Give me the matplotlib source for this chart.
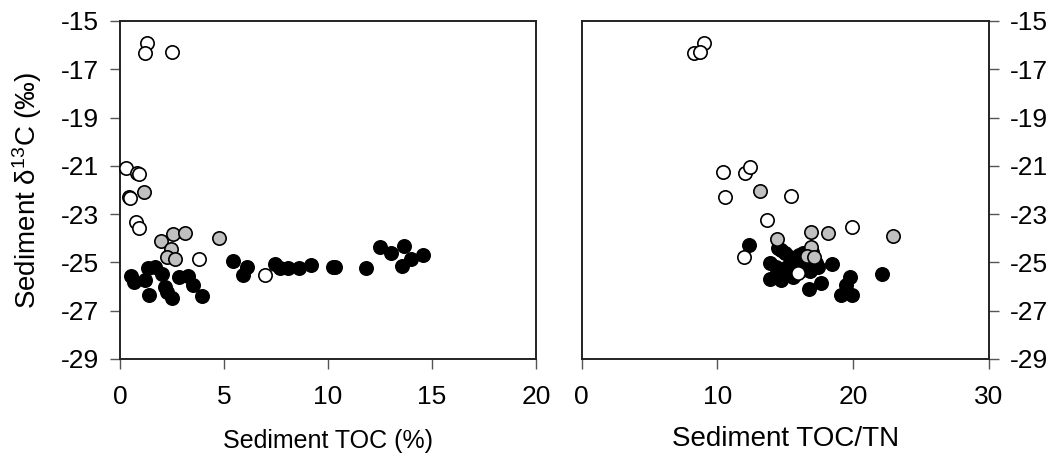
import matplotlib
matplotlib.use("Agg")
import matplotlib.pyplot as plt

plt.rcParams['font.family'] = ['Liberation Sans', 'DejaVu Sans']
plt.rcParams['mathtext.fontset'] = 'custom'
plt.rcParams['mathtext.rm'] = 'Liberation Sans'
plt.rcParams['mathtext.it'] = 'Liberation Sans:italic'
plt.rcParams['axes.unicode_minus'] = False

# ===============================
# Data
# ===============================
# open circles
toc_white = [1.31, 1.20, 2.52, 0.29, 0.80, 0.93, 0.45, 0.50, 0.77, 0.91, 3.80, 6.97]
d13c_white = [-15.92, -16.31, -16.27, -21.10, -21.28, -21.33, -22.30, -22.35, -23.31, -23.59, -24.84, -25.52]
cn_white = [8.99, 8.26, 8.75, 10.42, 12.06, 12.43, 10.54, 15.44, 13.65, 19.90, 11.93, 15.94]
d13c_white_r = [-15.92, -16.31, -16.27, -21.24, -21.31, -21.06, -22.27, -22.23, -23.24, -23.54, -24.76, -25.45]

# grey circles
toc_grey = [1.14, 1.96, 2.53, 3.11, 2.44, 2.28, 2.66, 4.74]
d13c_grey = [-22.10, -24.11, -23.83, -23.77, -24.44, -24.79, -24.87, -23.97]
cn_grey = [13.16, 14.39, 16.89, 18.14, 16.91, 16.59, 17.08, 22.90]
d13c_grey_r = [-22.04, -24.03, -23.72, -23.79, -24.37, -24.73, -24.79, -23.90]

# black circles
toc_black = [0.51, 0.67, 1.20, 1.39, 1.36, 1.68, 2.03, 2.16, 2.24, 2.52, 2.84,
             3.25, 3.49, 3.93, 5.45, 6.12, 5.93, 7.45, 7.69, 8.09, 8.62, 9.18,
             10.22, 10.36, 11.83, 12.50, 13.01, 13.65, 13.54, 13.97, 14.58]
d13c_black = [-25.55, -25.80, -25.72, -26.35, -25.24, -25.20, -25.48, -26.03, -26.21,
              -26.46, -25.59, -25.55, -25.93, -26.41, -24.95, -25.20, -25.52, -25.06,
              -25.24, -25.24, -25.24, -25.10, -25.17, -25.19, -25.24, -24.37, -24.59,
              -24.30, -25.14, -24.85, -24.69]
cn_black = [12.34, 13.91, 13.86, 14.72, 14.72, 15.33, 15.09, 16.31, 16.56, 17.29,
            15.58, 18.47, 17.66, 16.73, 19.79, 19.50, 19.13, 19.91, 22.15, 14.50,
            15.00, 15.60, 16.00, 16.90, 17.40, 15.20, 16.20, 14.30, 16.80, 17.00, 15.80]
d13c_black_r = [-24.28, -25.02, -25.70, -25.73, -24.49, -24.77, -25.18, -24.63, -25.04,
                -25.04, -25.60, -25.08, -25.84, -26.12, -25.62, -25.94, -26.35, -26.35,
                -25.50, -24.40, -24.60, -24.90, -24.70, -24.90, -25.20, -25.35, -25.30,
                -25.20, -25.35, -24.55, -25.10]

yticks = [-15, -17, -19, -21, -23, -25, -27, -29]

# ===============================
# Figure
# ===============================
fig = plt.figure(figsize=(10.55, 4.55), dpi=100)
ax1 = fig.add_axes([0.1137, 0.211, 0.3943, 0.7429])
ax2 = fig.add_axes([0.5512, 0.211, 0.3863, 0.7429])

mk = dict(s=92, edgecolors='black', linewidths=1.2, zorder=3, clip_on=False)

ax1.scatter(toc_black, d13c_black, c='black', **mk)
ax1.scatter(toc_grey, d13c_grey, c='#c0c0c0', **mk)
ax1.scatter(toc_white, d13c_white, c='white', **mk)

ax2.scatter(cn_black, d13c_black_r, c='black', **mk)
ax2.scatter(cn_grey, d13c_grey_r, c='#c0c0c0', **mk)
ax2.scatter(cn_white, d13c_white_r, c='white', **mk)

for ax in (ax1, ax2):
    ax.set_ylim(-29, -15)
    ax.set_yticks(yticks)
    for sp in ax.spines.values():
        sp.set_linewidth(1.4)
        sp.set_color('#222222')
    ax.tick_params(direction='out', length=7, width=1, color='#555555',
                   labelsize=19, pad=8)
    ax.tick_params(axis='x', pad=12)

ax1.set_xlim(0, 20)
ax1.set_xticks([0, 5, 10, 15, 20])
ax1.set_xlabel('Sediment TOC (%)', fontsize=18, labelpad=14)
ax1.set_ylabel('Sediment δ$^{13}$C (‰)', fontsize=20, labelpad=12)

ax2.set_xlim(0, 30)
ax2.set_xticks([0, 10, 20, 30])
ax2.yaxis.tick_right()
ax2.set_xlabel('Sediment TOC/TN', fontsize=20, labelpad=12)

fig.savefig('out.png', dpi=100)
